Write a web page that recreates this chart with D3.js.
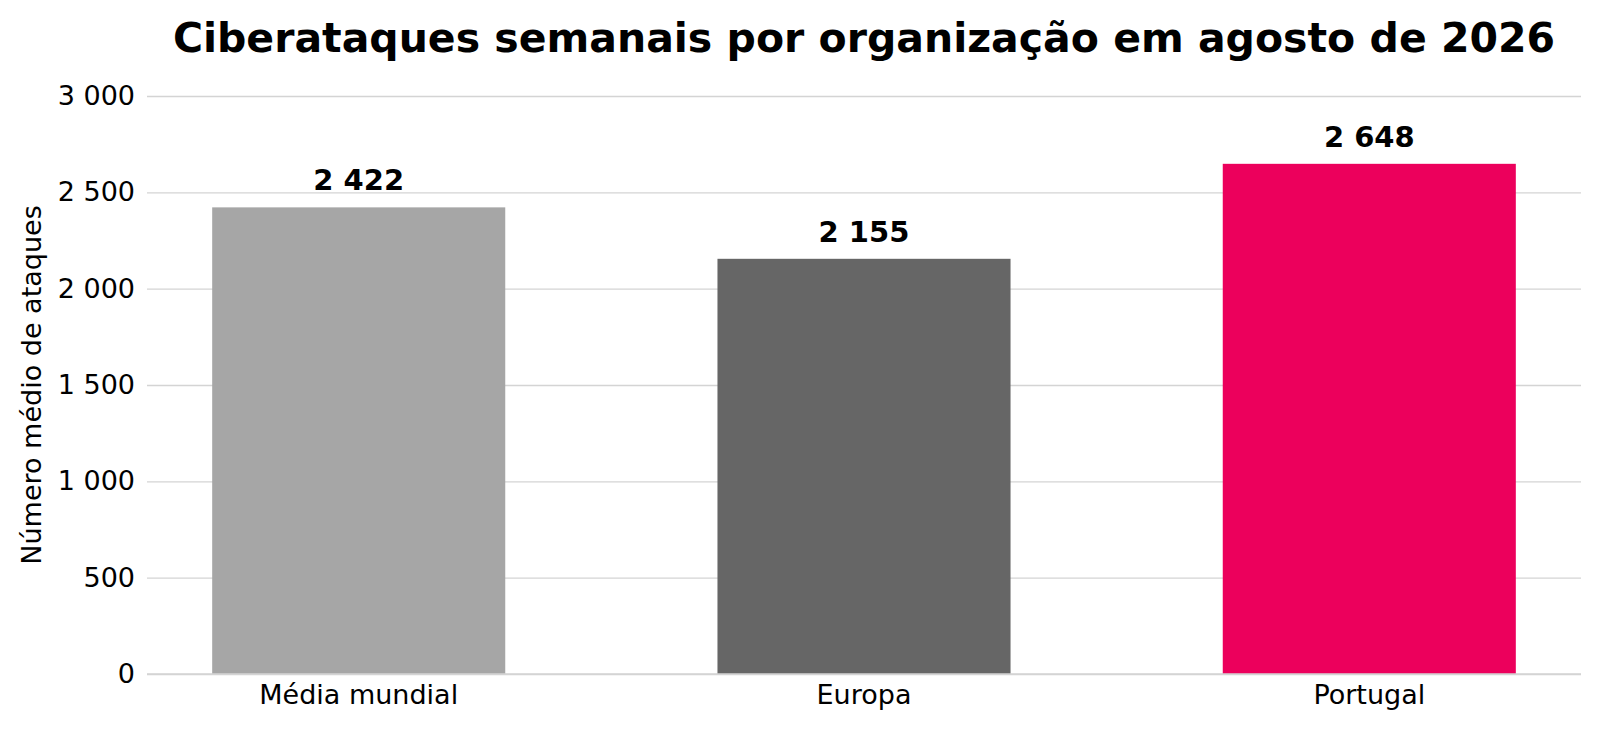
<!DOCTYPE html>
<html lang="pt">
  <head>
    <meta charset="UTF-8" />
    <title>Ciberataques semanais</title>
    <script src="https://cdn.jsdelivr.net/npm/d3@7"></script>
    <style>
      html, body { margin: 0; padding: 0; background: #fff; }
      svg { display: block; font-family: 'DejaVu Sans', sans-serif; }
    </style>
  </head>
  <body>
    <div class="chart"></div>
    <script>
      // dados
      var categorias = ['Média mundial', 'Europa', 'Portugal']
      var valores = [2422, 2155, 2648]
      var cores = ['#a6a6a6', '#666666', '#ec005c']
      var yTicks = [0, 500, 1000, 1500, 2000, 2500, 3000]

      var W = 1600, H = 730
      var mLeft = 147, mRight = 1581, mTop = 96, mBottom = 674

      var pt = d3.formatLocale({ decimal: ',', thousands: '\u00a0', grouping: [3], currency: ['', '€'] })
      var fmt = pt.format(',d')

      var svg = d3.select('.chart').append('svg').attr('width', W).attr('height', H)

      var x = d3.scaleBand().domain(categorias).range([mLeft, mRight]).paddingInner(0.42).paddingOuter(0.129)
      var y = d3.scaleLinear().domain([0, 3000]).range([mBottom, mTop])

      // grelha + eixo y
      var yAxis = svg.append('g')
        .attr('transform', `translate(${mLeft},0)`)
        .call(d3.axisLeft(y).tickValues(yTicks).tickFormat(fmt).tickSize(-(mRight - mLeft)).tickPadding(12))
      yAxis.select('.domain').remove()
      yAxis.selectAll('line').attr('stroke', '#d4d4d4').attr('stroke-width', 1.4)
      yAxis.selectAll('text').attr('font-size', 27).attr('fill', '#000').attr('font-family', 'DejaVu Sans')

      // barras
      svg.append('g').selectAll('rect').data(valores).join('rect')
        .attr('x', (d, i) => x(categorias[i]))
        .attr('y', (d) => y(d))
        .attr('width', x.bandwidth())
        .attr('height', (d) => y(0) - y(d))
        .attr('fill', (d, i) => cores[i])

      // linha do zero
      svg.append('line')
        .attr('x1', mLeft).attr('x2', mRight).attr('y1', y(0)).attr('y2', y(0))
        .attr('stroke', '#d4d4d4').attr('stroke-width', 1.6)

      // eixo x
      var xAxis = svg.append('g')
        .attr('transform', `translate(0,${mBottom})`)
        .call(d3.axisBottom(x).tickSize(0).tickPadding(11))
      xAxis.select('.domain').remove()
      xAxis.selectAll('text').attr('font-size', 27).attr('fill', '#000').attr('font-family', 'DejaVu Sans')

      // rótulos dos valores
      svg.append('g').selectAll('text').data(valores).join('text')
        .attr('x', (d, i) => x(categorias[i]) + x.bandwidth() / 2)
        .attr('y', (d) => y(d) - 17)
        .attr('text-anchor', 'middle')
        .attr('font-size', 29)
        .attr('font-weight', 'bold')
        .text((d) => fmt(d))

      // título
      svg.append('text')
        .attr('x', (mLeft + mRight) / 2)
        .attr('y', 52)
        .attr('text-anchor', 'middle')
        .attr('font-size', 41)
        .attr('font-weight', 'bold')
        .text('Ciberataques semanais por organização em agosto de 2026')

      // título do eixo y
      svg.append('text')
        .attr('transform', `translate(41,${(mTop + mBottom) / 2}) rotate(-90)`)
        .attr('text-anchor', 'middle')
        .attr('font-size', 27)
        .text('Número médio de ataques')
    </script>
  </body>
</html>
